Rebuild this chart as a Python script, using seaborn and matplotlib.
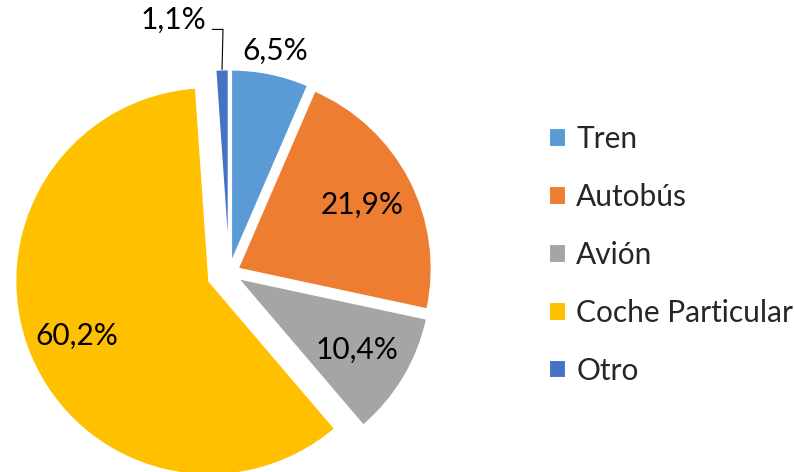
import numpy as np
import seaborn as sns
from matplotlib import pyplot as plt

# Reparto modal de viajes
categorias = ["Tren", "Autobús", "Avión", "Coche Particular", "Otro"]
porcentajes = [6.5, 21.9, 10.4, 60.2, 1.1]
colores = ["#5B9BD5", "#ED7D31", "#A5A5A5", "#FFC000", "#4472C4"]

sns.set_theme(style="white")
plt.rcParams['font.family'] = ['Lato', 'DejaVu Sans']

fig = plt.figure(figsize=(7.94, 4.72), dpi=100)
ax = fig.add_axes([-0.078, -0.195, 0.733, 1.233])

wedges, _ = ax.pie(porcentajes, colors=sns.color_palette(colores), startangle=90,
                   counterclock=False, explode=[0.05, 0.05, 0.05, 0.11, 0.05],
                   wedgeprops=dict(edgecolor="white", linewidth=1.5))
ax.set_xlim(-1.5, 1.5)
ax.set_ylim(-1.5, 1.5)
ax.set_aspect("equal")
ax.axis("off")

# etiquetas de porcentaje
dist = [1.12, 0.72, 0.72, 0.74, None]
for w, p, d in zip(wedges, porcentajes, dist):
    texto = f"{p:.1f}%".replace(".", ",")
    cx, cy = w.center
    ang = np.deg2rad((w.theta1 + w.theta2) / 2)
    if d is not None:
        ax.text(cx + d * np.cos(ang), cy + d * np.sin(ang), texto,
                ha="center", va="center", fontsize=21.5, color="black")
    else:
        # etiqueta fuera con línea guía
        x0, y0 = cx + np.cos(ang), cy + np.sin(ang)
        ax.plot([x0, x0 + 0.005, cx - 0.085], [y0, cy + 1.206, cy + 1.206],
                color="black", lw=0.8)
        ax.text(cx - 0.115, cy + 1.255, texto, ha="right", va="center",
                fontsize=21.5, color="black")

fig.legend(wedges, categorias, loc="center left", bbox_to_anchor=(549 / 794, 217 / 472),
           frameon=False, fontsize=21.5, handlelength=0.58, handleheight=0.58,
           handletextpad=0.33, labelspacing=1.0, borderpad=0, borderaxespad=0)

plt.savefig("out.png", dpi=100)
